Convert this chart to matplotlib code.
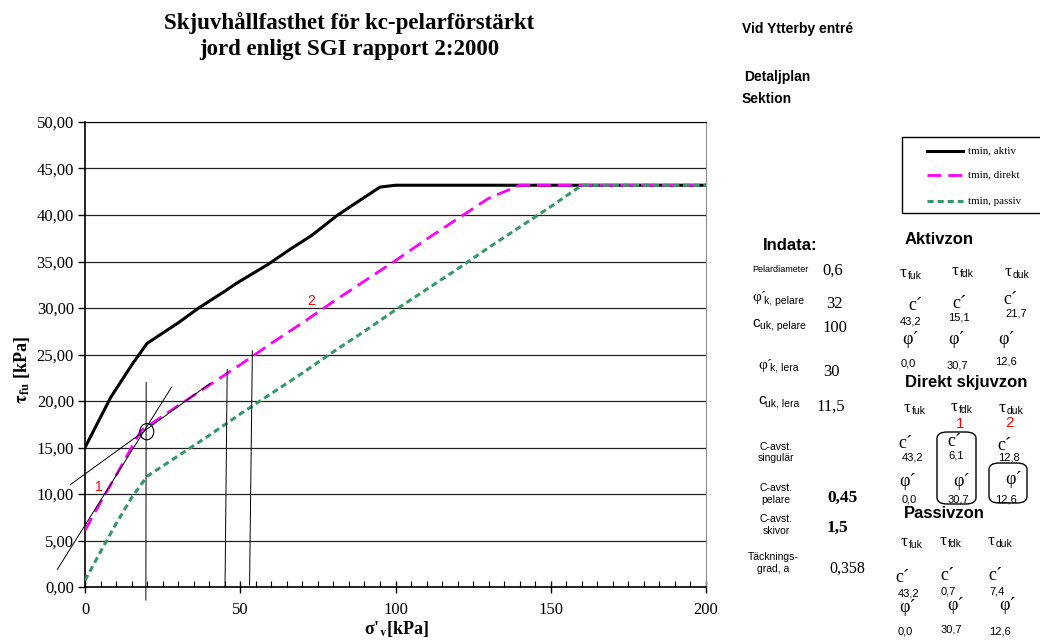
import matplotlib
matplotlib.use("Agg")
import matplotlib.pyplot as plt
from matplotlib.lines import Line2D
from matplotlib.patches import Ellipse, Rectangle, FancyBboxPatch
from matplotlib.ticker import MultipleLocator, FuncFormatter

SERIF = "Liberation Serif"
SANS = "Liberation Sans"
plt.rcParams["mathtext.fontset"] = "stix"

W, H = 1040, 642

# --- kurvor ---
sigma_aktiv = [0, 8.3, 15.3, 20, 30, 36.6, 45, 49, 59, 66, 73, 81, 85, 95, 100, 200]
tau_aktiv = [15.0, 20.4, 24.0, 26.2, 28.4, 30.0, 31.8, 32.7, 34.7, 36.3, 37.8, 39.9, 40.8, 43.0, 43.2, 43.2]

sigma_direkt = [0, 5, 10, 15, 18, 30, 40, 50, 60, 70, 80, 90, 100, 110, 120, 130, 140, 200]
tau_direkt = [6.1, 9.1, 12.0, 15.0, 16.8, 19.5, 21.7, 23.9, 26.2, 28.4, 30.7, 32.9, 35.1, 37.4, 39.6, 41.8, 43.2, 43.2]

sigma_passiv = [0, 5, 10, 15, 20, 30, 40, 50, 60, 70, 80, 90, 100, 110, 120, 130, 140, 150, 160, 200]
tau_passiv = [0.7, 3.8, 6.8, 9.6, 11.9, 14.1, 16.3, 18.6, 20.8, 23.0, 25.3, 27.5, 29.8, 32.0, 34.2, 36.5, 38.7, 40.9, 43.2, 43.2]

# hjälplinjer (handritade i originalet)
hjalp_x = [[-8.9, 27.9], [-4.75, 40.3], [19.6, 19.7], [45.1, 45.8], [53.0, 53.9]]
hjalp_y = [[1.9, 21.5], [11.0, 21.9], [-1.4, 22.0], [0.0, 23.4], [0.2, 25.4]]
cirkel = (19.9, 16.7)

y_ticks = [0, 5, 10, 15, 20, 25, 30, 35, 40, 45, 50]
x_ticks = [0, 50, 100, 150, 200]

fig = plt.figure(figsize=(W / 100, H / 100), dpi=100)
ax = fig.add_axes([85 / W, 1 - 587 / H, 621 / W, 465 / H])


def put(x, y, s, size, family=SANS, ha="left", va="center", **kw):
    fig.text(x / W, 1 - y / H, s, fontsize=size, family=family, ha=ha, va=va, **kw)


def tau(x, y, sub):
    put(x, y, "τ", 12.5, SERIF)
    put(x + 8, y + 3, sub, 7.5)


# kurvor
ax.plot(sigma_aktiv, tau_aktiv, color="black", lw=2.2, zorder=3)
ax.plot(sigma_direkt, tau_direkt, color="#FF00FF", lw=2.0, dashes=(5, 2.5), zorder=3)
ax.plot(sigma_passiv, tau_passiv, color="#339966", lw=2.2, dashes=(2.0, 1.3), zorder=3)

for hx, hy in zip(hjalp_x, hjalp_y):
    ax.plot(hx, hy, color="black", lw=0.7, clip_on=False, zorder=4)
ax.add_patch(Ellipse(cirkel, 4.5, 1.75, fill=False, ec="black", lw=0.8, zorder=4))

ax.text(4.3, 10.8, "1", color="red", fontsize=10, family=SANS, ha="center", va="center")
ax.text(72.8, 30.8, "2", color="red", fontsize=10, family=SANS, ha="center", va="center")

ax.set_xlim(0, 200)
ax.set_ylim(0, 50)
ax.set_xticks(x_ticks)
ax.set_yticks(y_ticks)
ax.xaxis.set_minor_locator(MultipleLocator(5))
ax.yaxis.set_major_formatter(FuncFormatter(lambda v, p: f"{v:.2f}".replace(".", ",")))
ax.tick_params(axis="x", which="major", direction="inout", length=9, width=1, pad=6)
ax.tick_params(axis="x", which="minor", direction="in", length=4, width=0.8)
ax.tick_params(axis="y", which="major", direction="out", length=5, width=1, pad=3)
for lab in ax.get_xticklabels() + ax.get_yticklabels():
    lab.set_family(SERIF)
    lab.set_fontsize(12)
ax.yaxis.grid(True, color="#222222", lw=0.9)
ax.spines["right"].set_color("#909090")
ax.spines["left"].set_linewidth(1.2)
ax.spines["bottom"].set_linewidth(1.2)

# titel och axeltexter
put(349, 23, "Skjuvhållfasthet för kc-pelarförstärkt", 16.5, SERIF, ha="center", weight="bold")
put(349, 50, "jord enligt SGI rapport 2:2000", 16.5, SERIF, ha="center", weight="bold")
put(22, 370, r"$\mathbf{\tau_{fu}}$ [kPa]", 13, SERIF, ha="center", rotation=90, weight="bold")
put(396, 629, r"σ'$_\mathbf{v}$[kPa]", 13, SERIF, ha="center", weight="bold")

# högra sidan
put(742, 29, "Vid Ytterby entré", 10, weight="bold")
put(744, 77, "Detaljplan", 10, weight="bold")
put(742, 99, "Sektion", 10, weight="bold")

# legend
fig.add_artist(Rectangle((902 / W, 1 - 213 / H), 160 / W, 76 / H, transform=fig.transFigure,
                         fill=False, ec="black", lw=1.0, clip_on=False))
fig.add_artist(Line2D([927 / W, 963 / W], [1 - 151 / H] * 2, transform=fig.transFigure,
                      color="black", lw=2.2))
fig.add_artist(Line2D([927 / W, 963 / W], [1 - 175 / H] * 2, transform=fig.transFigure,
                      color="#FF00FF", lw=2.0, dashes=(5, 2.5)))
fig.add_artist(Line2D([927 / W, 963 / W], [1 - 201 / H] * 2, transform=fig.transFigure,
                      color="#339966", lw=2.2, dashes=(2.0, 1.3)))
put(968, 151, "tmin, aktiv", 7.8, SERIF)
put(968, 175, "tmin, direkt", 7.8, SERIF)
put(968, 201, "tmin, passiv", 7.8, SERIF)

# indata
put(763, 246, "Indata:", 12, weight="bold")
put(752, 269, "Pelardiameter", 6.5)
put(822, 271, "0,6", 12, SERIF)
put(752, 297, "φ´", 11, SERIF)
put(764, 301, "k, pelare", 7.5)
put(826, 304, "32", 12, SERIF)
put(752, 323, "c", 11)
put(760, 326, "uk, pelare", 7.5)
put(822, 328, "100", 12, SERIF)
put(758, 365, "φ´", 11, SERIF)
put(770, 368, "k, lera", 7.5)
put(823, 372, "30", 12, SERIF)
put(758, 400, "c", 11)
put(765, 403, "uk, lera", 7.5)
put(816, 407, "11,5", 12, SERIF)
put(776, 447, "C-avst.", 7.5, ha="center")
put(776, 458, "singulär", 7.5, ha="center")
put(776, 488, "C-avst.", 7.5, ha="center")
put(776, 500, "pelare", 7.5, ha="center")
put(827, 498, "0,45", 12.5, SERIF, weight="bold")
put(776, 519, "C-avst.", 7.5, ha="center")
put(776, 531, "skivor", 7.5, ha="center")
put(827, 528, "1,5", 12.5, SERIF, weight="bold")
put(773, 557, "Täcknings-", 7.5, ha="center")
put(773, 569, "grad, a", 7.5, ha="center")
put(829, 569, "0,358", 11.5, SERIF)

# aktivzon
put(905, 240, "Aktivzon", 12, weight="bold")
tau(900, 273, "fuk")
tau(952, 271, "fdk")
tau(1005, 272, "duk")
put(908, 306, "c´", 13, SERIF)
put(900, 321, "43,2", 8)
put(952, 303, "c´", 13, SERIF)
put(948, 318, "15,1", 8)
put(1003, 299, "c´", 13, SERIF)
put(1005, 313, "21,7", 8)
put(902, 340, "φ´", 13, SERIF)
put(948, 340, "φ´", 13, SERIF)
put(998, 340, "φ´", 13, SERIF)
put(901, 363, "0,0", 8)
put(947, 365, "30,7", 8)
put(995, 362, "12,6", 8)

# direkt skjuvzon
put(905, 383, "Direkt skjuvzon", 12, weight="bold")
tau(904, 408, "fuk")
tau(951, 407, "fdk")
tau(999, 408, "duk")
put(960, 424, "1", 11, color="red", ha="center")
put(1009, 423, "2", 11, color="red", ha="center")
put(898, 443, "c´", 13, SERIF)
put(902, 457, "43,2", 8)
put(947, 442, "c´", 13, SERIF)
put(948, 456, "6,1", 8)
put(997, 445, "c´", 13, SERIF)
put(998, 457, "12,8", 8)
put(899, 481, "φ´", 13, SERIF)
put(953, 481, "φ´", 13, SERIF)
put(1005, 479, "φ´", 13, SERIF)
put(902, 500, "0,0", 8)
put(948, 500, "30,7", 8)
put(995, 500, "12,6", 8)
for (x0, y0, x1, y1) in [(937, 432, 976, 504), (989, 463, 1027, 503)]:
    fig.add_artist(FancyBboxPatch((x0 / W, 1 - y1 / H), (x1 - x0) / W, (y1 - y0) / H,
                                  boxstyle="round,pad=0,rounding_size=0.01",
                                  transform=fig.transFigure, fill=False, ec="black", lw=1.0))

# passivzon
put(904, 513, "Passivzon", 12, weight="bold")
tau(901, 542, "fuk")
tau(940, 541, "fdk")
tau(988, 541, "duk")
put(895, 578, "c´", 13, SERIF)
put(898, 593, "43,2", 8)
put(940, 576, "c´", 13, SERIF)
put(941, 592, "0,7", 8)
put(988, 576, "c´", 13, SERIF)
put(989, 592, "7,4", 8)
put(899, 607, "φ´", 13, SERIF)
put(947, 606, "φ´", 13, SERIF)
put(999, 606, "φ´", 13, SERIF)
put(898, 631, "0,0", 8)
put(941, 629, "30,7", 8)
put(989, 632, "12,6", 8)

fig.savefig("out.png", dpi=100)
